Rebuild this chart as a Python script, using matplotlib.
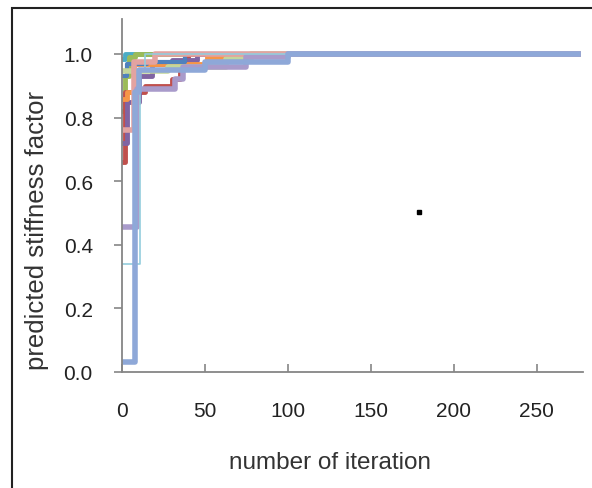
import matplotlib.pyplot as plt
from matplotlib.patches import Rectangle

# iteration / predicted stiffness factor, one small list per run
aqua_x = [0, 2, 275]
aqua_y = [0.985, 1.0, 1.0]
green_x = [0, 2, 4, 8, 275]
green_y = [0.82, 0.93, 0.99, 1.0, 1.0]
red_x = [0, 2, 14, 30, 35, 40, 275]
red_y = [0.66, 0.88, 0.90, 0.92, 0.97, 1.0, 1.0]
purple_x = [0, 3, 10, 18, 30, 45, 275]
purple_y = [0.72, 0.85, 0.93, 0.97, 0.98, 1.0, 1.0]
orange_x = [0, 3, 7, 51, 63, 275]
orange_y = [0.86, 0.88, 0.97, 0.99, 1.0, 1.0]
blue_x = [0, 3, 15, 38, 275]
blue_y = [0.93, 0.97, 0.975, 1.0, 1.0]
lgreen_x = [0, 28, 63, 78, 275]
lgreen_y = [0.945, 0.96, 0.985, 1.0, 1.0]
pink_x = [0, 7, 20, 275]
pink_y = [0.76, 0.975, 1.0, 1.0]
lpurple_x = [0, 9, 32, 37, 75, 100, 275]
lpurple_y = [0.455, 0.89, 0.92, 0.96, 0.99, 1.0, 1.0]
laqua_x = [0, 11, 14, 275]
laqua_y = [0.34, 0.95, 1.0, 1.0]
lblue_x = [0, 8, 10, 50, 100, 275]
lblue_y = [0.03, 0.88, 0.95, 0.975, 1.0, 1.0]

dot_x = [179]
dot_y = [0.503]

x_ticks = [0, 50, 100, 150, 200, 250]
y_ticks = [0.0, 0.2, 0.4, 0.6, 0.8, 1.0]

plt.rcParams['font.family'] = ['Liberation Sans', 'DejaVu Sans']

fig = plt.figure(figsize=(5.92, 4.89), dpi=100)
ax = fig.add_axes([122 / 592, 1 - 373 / 489, 461 / 592, 353 / 489])

# рамка вокруг рисунка
fig.patches.append(Rectangle((12 / 592, -0.1), 1.2, 1 - 9 / 489 + 0.1, transform=fig.transFigure,
                             fill=False, edgecolor='#222222', linewidth=1.5))

series = [
    (aqua_x, aqua_y, '#4BACC6', 3.5),
    (green_x, green_y, '#9BBB59', 3.5),
    (red_x, red_y, '#C0504D', 3.5),
    (purple_x, purple_y, '#8064A2', 3.5),
    (orange_x, orange_y, '#F79646', 3.5),
    (blue_x, blue_y, '#4F81BD', 3.0),
    (lgreen_x, lgreen_y, '#C3D69B', 4.0),
    (pink_x, pink_y, '#E3A3A1', 4.0),
    (lpurple_x, lpurple_y, '#A99BCB', 4.0),
    (laqua_x, laqua_y, '#93CDDD', 1.2),
    (lblue_x, lblue_y, '#8EA8D8', 4.0),
]
for xs, ys, c, lw in series:
    ax.step(xs, ys, where='post', color=c, linewidth=lw)

ax.plot(dot_x, dot_y, 's', color='black', markersize=2.5)

ax.set_xlim(0, 278)
ax.set_ylim(0, 1.11)
ax.set_xticks(x_ticks)
ax.set_yticks(y_ticks)
ax.set_yticklabels(['%.1f' % v for v in y_ticks])

for s in ['top', 'right']:
    ax.spines[s].set_visible(False)
for s in ['left', 'bottom']:
    ax.spines[s].set_color('#868686')
    ax.spines[s].set_linewidth(1.3)

ax.tick_params(axis='x', direction='in', length=6, width=1.2, color='#868686', pad=21,
               labelsize=15, labelcolor='#222222')
ax.tick_params(axis='y', direction='out', length=6, width=1.2, color='#868686', pad=15,
               labelsize=15, labelcolor='#222222')

ax.set_xlabel('number of iteration', fontsize=17.5, color='#333333')
ax.set_ylabel('predicted stiffness factor', fontsize=18.5, color='#333333')
ax.xaxis.set_label_coords(0.451, -0.224)
ax.yaxis.set_label_coords(-0.158, 0.405)

fig.savefig('out.png', dpi=100)
